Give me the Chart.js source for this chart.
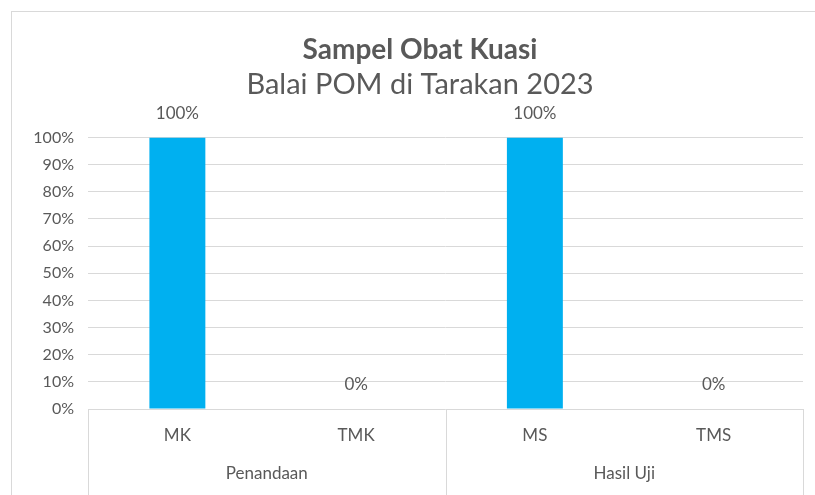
<!DOCTYPE html>
<html>
<head>
<meta charset="utf-8">
<script src="https://cdn.jsdelivr.net/npm/chart.js@4"></script>
<style>
    html, body { margin: 0; padding: 0; background: #fff; overflow: hidden; }
    #bingkai {
        position: absolute;
        left: 11px;
        top: 11px;
        width: 815px;
        height: 484px;
        border-left: 1px solid #d9d9d9;
        border-top: 1px solid #d9d9d9;
    }
</style>
</head>
<body>
<div id="bingkai"><canvas id="grafik"></canvas></div>
<script>
// data dari gambar
const kategori = ["MK", "TMK", "MS", "TMS"];
const kelompok = ["Penandaan", "Hasil Uji"];
const nilai = [100, 0, 100, 0];
const tickY = [0, 10, 20, 30, 40, 50, 60, 70, 80, 90, 100];

const abu = "#595959";
const garis = "#d9d9d9";
const font = "Lato";

/* label nilai di atas batang */
const labelNilai = {
    id: "labelNilai",
    afterDatasetsDraw(chart) {
        const ctx = chart.ctx;
        const meta = chart.getDatasetMeta(0);
        ctx.save();
        ctx.font = "17px " + font;
        ctx.fillStyle = abu;
        ctx.textAlign = "center";
        ctx.textBaseline = "middle";
        meta.data.forEach((bar, i) => {
            ctx.fillText(nilai[i] + "%", bar.x, bar.y - 24);
        });
        ctx.restore();
    }
};

/* garis pemisah kelompok di bawah sumbu x */
const pemisah = {
    id: "pemisah",
    afterLayout(chart) {
        // beri ruang label sumbu y supaya tidak terpotong
        chart.scales.y.left = 0;
    },
    afterDraw(chart) {
        const x = chart.scales.x;
        const y = chart.scales.y;
        const tengah = (x.getPixelForTick(1) + x.getPixelForTick(2)) / 2;
        const ctx = chart.ctx;
        ctx.save();
        ctx.strokeStyle = garis;
        ctx.lineWidth = 1;
        [x.left, tengah, x.right].forEach(px => {
            const p = Math.round(px) + 0.5;
            ctx.beginPath();
            ctx.moveTo(p, y.bottom);
            ctx.lineTo(p, chart.height);
            ctx.stroke();
        });
        ctx.restore();
    }
};

new Chart(document.getElementById("grafik"), {
    type: "bar",
    data: {
        labels: kategori,
        datasets: [{
            data: nilai,
            backgroundColor: "#00b0f0",
            borderWidth: 0,
            barPercentage: 0.313,
            categoryPercentage: 1
        }]
    },
    options: {
        responsive: true,
        maintainAspectRatio: false,
        animation: false,
        layout: { padding: { left: 25, right: 24, top: 0, bottom: 13 } },
        plugins: {
            legend: { display: false },
            tooltip: { enabled: false },
            title: {
                display: true,
                text: "Sampel Obat Kuasi",
                color: abu,
                font: { family: font, size: 28, weight: "bold" },
                padding: { top: 21, bottom: 1 }
            },
            subtitle: {
                display: true,
                text: "Balai POM di Tarakan 2023",
                color: abu,
                font: { family: font, size: 29, weight: "normal" },
                padding: { top: 0, bottom: 35 }
            }
        },
        scales: {
            y: {
                min: 0,
                max: 100,
                afterFit(scale) { scale.width = 51; },
                afterBuildTicks(scale) { scale.ticks = tickY.map(v => ({ value: v })); },
                ticks: {
                    color: abu,
                    padding: 14,
                    font: { family: font, size: 16 },
                    callback: v => v + "%"
                },
                grid: { color: garis, drawTicks: false },
                border: { display: false }
            },
            x: {
                afterFit(scale) { scale.height = 36; },
                ticks: {
                    color: abu,
                    padding: 16,
                    font: { family: font, size: 17 }
                },
                grid: { display: false, drawTicks: false },
                border: { display: false }
            },
            x2: {
                type: "category",
                position: "bottom",
                labels: kelompok,
                afterFit(scale) { scale.height = 38; },
                ticks: {
                    color: abu,
                    padding: 18,
                    font: { family: font, size: 17 }
                },
                grid: { display: false, drawTicks: false },
                border: { display: false }
            }
        }
    },
    plugins: [labelNilai, pemisah]
});
</script>
</body>
</html>
